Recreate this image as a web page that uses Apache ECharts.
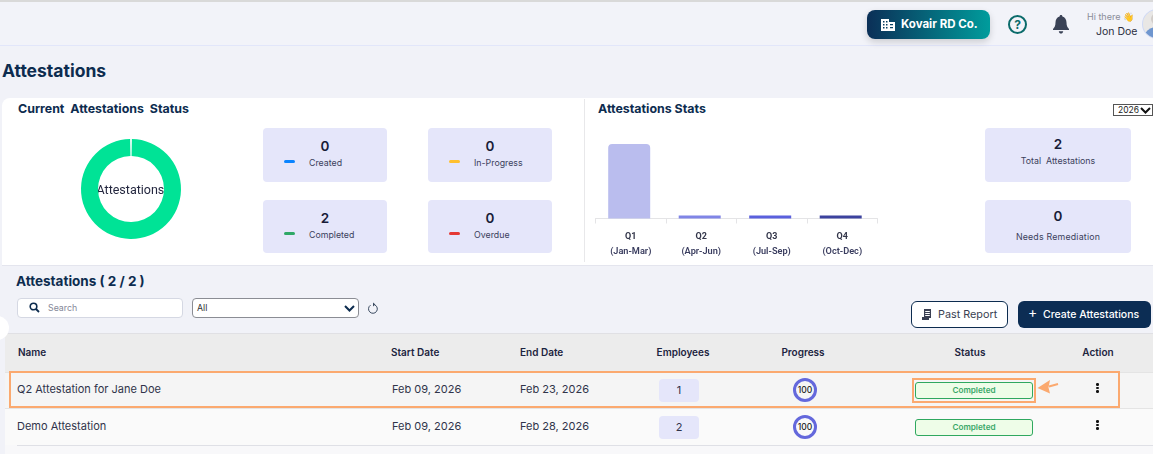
<!DOCTYPE html>
<html><head><meta charset="utf-8">
<script src="https://cdn.jsdelivr.net/npm/echarts@6/dist/echarts.min.js"></script>
<style>
html,body{margin:0;padding:0;width:1153px;height:454px;overflow:hidden;background:#f1f2f8;font-family:Inter,Roboto,sans-serif;color:#1a1f3c}
.a{position:absolute;box-sizing:border-box;white-space:nowrap}
.card{background:#e5e6fa;border-radius:4px}
.c{text-align:center;transform:translateX(-50%)}
.h{font-size:10px;font-weight:600;color:#1c2440;line-height:12px}
.cell{font-size:11px;color:#30344a;line-height:14px}
.t{font-weight:700;color:#0d2c4f}
</style></head><body>
<div id="root"></div>
<script>
// Chart data
const donutCategories = ['Completed'];
const donutValues = [2];
const donutCenterLabel = 'Attestations';
const quarterNames = ['Q1', 'Q2', 'Q3', 'Q4'];
const quarterRanges = ['(Jan-Mar)', '(Apr-Jun)', '(Jul-Sep)', '(Oct-Dec)'];
const quarterValues = [2, 0, 0, 0];
const quarterColors = ['#babdee', '#8085e6', '#5a60dd', '#3c429e'];
// Page content
const statusCards = [['0','Created','#0a84ff',263,128],['0','In-Progress','#ffc02e',428,128],['2','Completed','#2fa866',263,200],['0','Overdue','#e53935',428,200]];
const statCards = [['2','Total&nbsp; Attestations',128,155,0],['0','Needs Remediation',200,231,.2]];
const headers = [['Name',18,0],['Start Date',391,0],['End Date',520,0],['Employees',683,1],['Progress',803,1],['Status',970,1],['Action',1098,1]];
const rows = [['Q2 Attestation for Jane Doe','Feb 09, 2026','Feb 23, 2026','1','100','Completed'],['Demo Attestation','Feb 09, 2026','Feb 28, 2026','2','100','Completed']];

let h = '';
const box = (x,y,w,ht,css,inner='',cls='',id='') => `<div ${id?`id="${id}"`:''} class="a ${cls}" style="left:${x}px;top:${y}px;width:${w}px;height:${ht}px;${css}">${inner}</div>`;
const txt = (x,y,s,css='',cls='') => `<div class="a ${cls}" style="left:${x}px;top:${y}px;${css}">${s}</div>`;

// top bar
h += box(0,0,1153,2,'background:#d9d9d9');
h += box(0,2,1153,44,'background:#f2f3f9;border-bottom:1px solid #e2e6fa');
h += box(867,10,123,29,'background:linear-gradient(90deg,#0b2f57,#009c9c);border-radius:8px;box-shadow:0 3px 7px rgba(0,0,0,.16)');
h += `<svg class="a" style="left:881px;top:19px" width="14" height="12" viewBox="0 0 14 12"><path fill="#fff" d="M0 0h8v3h6v9H0zM2 2v1.5h1.5V2zM5 2v1.5h1.5V2zM2 5v1.5h1.5V5zM5 5v1.5h1.5V5zM2 8v1.5h1.5V8zM5 8v1.5h1.5V8zM9 5v1.2h3V5zM9 8v1.2h3V8z"/></svg>`;
h += txt(901,17,'Kovair RD Co.','font-size:11.5px;font-weight:700;color:#fff;line-height:15px');
h += box(1008,15,19,19,'border:2px solid #0b6b6b;border-radius:50%;font:700 12px/15px Inter;color:#0b6b6b;text-align:center','?');
h += `<svg class="a" style="left:1053px;top:15px" width="16" height="19" viewBox="0 0 16 19"><path fill="#3a4256" d="M8 0c1 0 1.400.700 1.400 1.500C12 2.300 13.500 4.500 13.500 7.500c0 3.500 1 5 2.500 6.500v1H0v-1c1.500-1.500 2.500-3 2.500-6.500 0-3 1.500-5.200 4.100-6C6.600.700 7 0 8 0zM5.800 16.200h4.400C10 17.800 9.100 18.600 8 18.600s-2-.8-2.200-2.400z"/></svg>`;
h += txt(1087,11,'Hi there 👋','font-size:9px;color:#8a8d99;line-height:12px');
h += txt(1096,25,'Jon Doe','font-size:10.5px;font-weight:400;color:#2a2d3e;line-height:13px');
h += `<svg class="a" style="left:1141px;top:8px" width="12" height="32" viewBox="0 0 12 32"><defs><clipPath id="av"><circle cx="16" cy="16" r="14"/></clipPath></defs><circle cx="16" cy="16" r="15" fill="#cfd9f5"/><g clip-path="url(#av)"><rect width="32" height="32" fill="#e9e7e5"/><circle cx="16" cy="11" r="6" fill="#d2cdc9"/><ellipse cx="16" cy="30" rx="13" ry="11" fill="#6f96cf"/></g></svg>`;
// title
h += txt(2,61,'Attestations','font-size:17.5px;line-height:20px','t');
// top panel
h += box(2,98,1151,168,'background:#fff;border-top-left-radius:8px;border-bottom:1px solid #e4e5ee');
h += txt(18,101,'Current&nbsp; Attestations&nbsp; Status','font-size:12.4px;line-height:15px','t');
h += txt(598,101,'Attestations Stats','font-size:12.4px;line-height:15px','t');
h += box(584,99,1,163,'background:#e8e8ea');
h += box(1113,104,40,12,'background:#fff;border:1px solid #555;font-size:8.5px;line-height:10px;padding-left:4px;color:#222','2026');
h += `<svg class="a" style="left:1140px;top:107px" width="11" height="7" viewBox="0 0 11 7"><path d="M1 1l4.500 4.500L10 1" fill="none" stroke="#111" stroke-width="2"/></svg>`;
statusCards.forEach(([v,l,col,x,y]) => {
  h += box(x,y,124,y===128?54:53,'','','card');
  h += txt(x+62,y+10,v,'font-size:13.5px;font-weight:600;line-height:16px;color:#181c38','c');
  h += box(x+21,y+32,11,3,`background:${col};border-radius:2px`);
  h += txt(x+46,y+29,l,'font-size:8.8px;line-height:11px;color:#3b3f5c');
});
statCards.forEach(([v,l,y,ly,sp]) => {
  h += box(985,y,146,y===128?54:53,'','','card');
  h += txt(1058,y+8,v,'font-size:13.5px;font-weight:600;line-height:16px;color:#181c38','c');
  h += txt(1058,ly,l,`font-size:8.8px;line-height:11px;color:#3b3f5c;letter-spacing:${sp}px`,'c');
});
// filter row
h += txt(16,273,'Attestations ( 2 / 2 )','font-size:13.5px;line-height:17px','t');
h += box(17,298,166,20,'background:#fff;border:1px solid #d5d8e3;border-radius:4px');
h += `<svg class="a" style="left:29px;top:302px" width="11" height="11" viewBox="0 0 11 11"><circle cx="4.500" cy="4.500" r="3.300" fill="none" stroke="#0d2c4f" stroke-width="1.600"/><path d="M7 7l3 3" stroke="#0d2c4f" stroke-width="1.800"/></svg>`;
h += txt(48,302,'Search','font-size:8.8px;line-height:11px;color:#858899');
h += box(192,298,167,20,'background:#fff;border:1px solid #8b8d94;border-radius:4px');
h += txt(197,302,'All','font-size:8.8px;line-height:11px;color:#333');
h += `<svg class="a" style="left:344px;top:305px" width="11" height="7" viewBox="0 0 11 7"><path d="M1 1l4.500 4.500L10 1" fill="none" stroke="#0d2c4f" stroke-width="2"/></svg>`;
h += `<svg class="a" style="left:367px;top:302px" width="12" height="13" viewBox="0 0 12 13"><path d="M3.500 3.200A4.400 4.400 0 1 0 8 3" fill="none" stroke="#3a4a60" stroke-width="1"/><path d="M6 .6v4l2.400-2z" fill="#3a4a60"/></svg>`;
h += box(911,301,97,27,'background:#fff;border:1px solid #0d2c4f;border-radius:6px');
h += `<svg class="a" style="left:922px;top:309px" width="10" height="11" viewBox="0 0 10 11"><path fill="#3a3f52" d="M2 0h7v9H2zM3.200 2v1h4.600V2zM3.200 4v1h4.600V4zM3.200 6v1h4.600V6zM0 8h7v3H0z"/></svg>`;
h += txt(938,308,'Past Report','font-size:10.8px;line-height:13px;color:#3a3f52');
h += box(1018,301,133,27,'background:#0c2d54;border-radius:6px');
h += txt(1028,304,'+','font-size:14px;line-height:16px;color:#fff');
h += txt(1043,308,'Create Attestations','font-size:10.5px;line-height:13px;color:#fff;font-weight:500');
// table
h += box(5,333,1148,39,'background:#ececec;border-top:1px solid #e0e0e4');
h += box(5,372,1148,36,'background:#f5f5f5;border-top:1px solid #e4e4e4');
h += box(5,408,1148,37,'background:#fafafa;border-top:1px solid #e4e4e4');
h += box(5,445,1148,9,'background:#f8f8fa');
h += box(17,445,1136,1,'background:#dfe0e6');
h += box(-15,316,24,24,'background:#fff;border-radius:50%');
headers.forEach(([s,x,c]) => { h += txt(x,346,s,'',c?'h c':'h'); });
rows.forEach((r,i) => {
  const y = i===0?382:419;
  h += txt(17,y,r[0],'','cell');
  h += txt(392,y,r[1],'','cell');
  h += txt(520,y,r[2],'','cell');
  h += box(659,y-3,40,23,'text-align:center;font-size:11px;line-height:23px;color:#30344a',r[3],'card');
  h += box(793,y-4,24,24,'border:3px solid #6468dc;border-radius:50%;text-align:center;font-size:8.5px;font-weight:500;line-height:18px;color:#222',r[4]);
  h += box(915,y,118,17,'background:#eefde8;border:1px solid #2fa85f;border-radius:3px;text-align:center;font-size:8.2px;font-weight:600;line-height:15px;color:#3aa868',r[5]);
  [1,4.5,8].forEach(d => { h += box(1096,y+d,2.5,2.5,'background:#111;border-radius:50%'); });
});
// annotations
h += box(9,371,1111,37,'border:2px solid #fba96f');
h += box(912,378,124,25,'border:2px solid #fba96f');
h += `<svg class="a" style="left:1036px;top:378px" width="24" height="20" viewBox="0 0 24 20"><path d="M22 6L13 8.500" stroke="#fba96f" stroke-width="2"/><path d="M1.500 10L14 2l-1.500 7.500L14 15.500z" fill="#fba96f"/></svg>`;
// chart containers
h += box(60,128,142,122,'','','','donut');
h += box(585,130,305,132,'','','','bars');
document.getElementById('root').innerHTML = h;

const donut = echarts.init(document.getElementById('donut'), null, {renderer:'canvas'});
donut.setOption({
  animation:false,
  graphic:[{type:'text',left:36.5,top:56.5,silent:true,style:{text:donutCenterLabel,fontFamily:'Roboto',fontSize:12.5,fill:'#24273f'}}],
  series:[{type:'pie',center:[71,61],radius:[33,50],silent:true,startAngle:89,endAngle:-269,
    itemStyle:{color:'#00e396'},
    label:{show:false},
    labelLine:{show:false},
    data:donutCategories.map((n,i)=>({name:n,value:donutValues[i]}))}]
});
const bars = echarts.init(document.getElementById('bars'), null, {renderer:'canvas'});
bars.setOption({
  animation:false,
  grid:{left:10.5,top:14,width:282,height:74.5},
  xAxis:{type:'category',data:quarterNames.map((q,i)=>q+'\n'+quarterRanges[i]),
    axisLine:{lineStyle:{color:'#e4e4e6'}},axisTick:{show:true,length:5,lineStyle:{color:'#e4e4e6'}},
    axisLabel:{margin:11,interval:0,formatter:(v)=>{const p=v.split('\n');return '{q|'+p[0]+'}\n{r|'+p[1]+'}';},
      rich:{q:{fontFamily:'Roboto',fontSize:9,fontWeight:700,lineHeight:15,color:'#33364a'},r:{fontFamily:'Roboto',fontSize:9.2,fontWeight:600,lineHeight:15,color:'#3a3d5f'}}}},
  yAxis:{type:'value',min:0,max:2,show:false},
  series:[{type:'bar',barWidth:42,barMinHeight:3,barGap:'5%',silent:true,
    data:quarterValues.map((v,i)=>({value:v,itemStyle:{color:quarterColors[i],borderRadius:v?[4,4,0,0]:0}}))},
    {type:'bar',barWidth:0.1,silent:true,data:[]}]
});
</script>
</body></html>
